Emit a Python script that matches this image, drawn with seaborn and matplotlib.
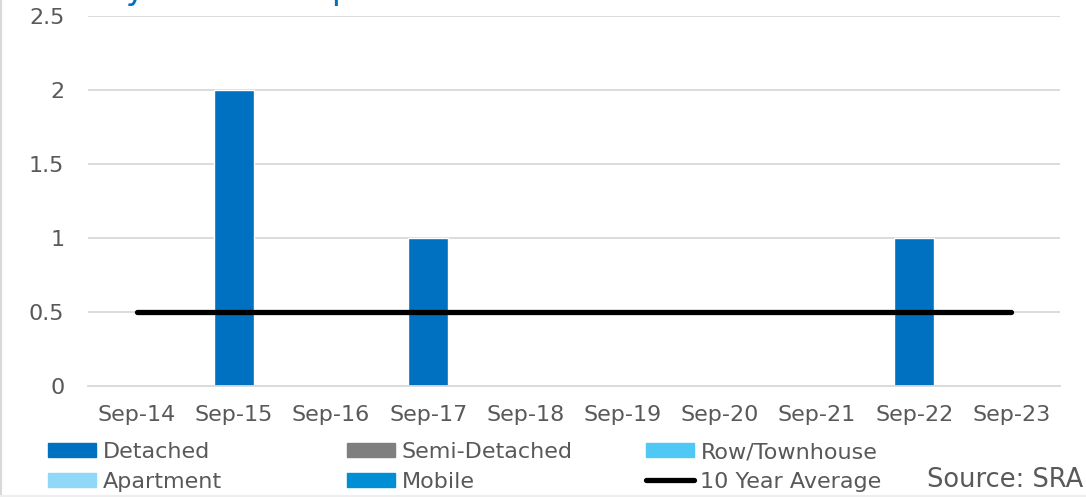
import numpy as np
import pandas as pd
import seaborn as sns
import matplotlib.pyplot as plt
from matplotlib.patches import Patch
from matplotlib.lines import Line2D

# Data
months = ["Sep-14", "Sep-15", "Sep-16", "Sep-17", "Sep-18",
          "Sep-19", "Sep-20", "Sep-21", "Sep-22", "Sep-23"]
detached = [0, 2, 0, 1, 0, 0, 0, 0, 1, 0]
semi_detached = [0, 0, 0, 0, 0, 0, 0, 0, 0, 0]
row_townhouse = [0, 0, 0, 0, 0, 0, 0, 0, 0, 0]
apartment = [0, 0, 0, 0, 0, 0, 0, 0, 0, 0]
mobile = [0, 0, 0, 0, 0, 0, 0, 0, 0, 0]
ten_year_avg = [0.5] * 10

colors = {"Detached": "#0070c0", "Semi-Detached": "#7f7f7f",
          "Row/Townhouse": "#4fc8f5", "Apartment": "#8fd8f8",
          "Mobile": "#008fd5"}

sns.set_style("white")
plt.rcParams["font.family"] = ["DejaVu Sans"]

df = pd.DataFrame({"month": months, "Detached": detached,
                   "avg": ten_year_avg})

fig, ax = plt.subplots(figsize=(10.86, 4.97), dpi=100)
fig.subplots_adjust(left=0.081, right=0.976, top=0.968, bottom=0.223)

sns.barplot(data=df, x="month", y="Detached", color=colors["Detached"],
            width=0.41, saturation=1, ax=ax, zorder=2)
ax.plot(range(len(months)), df["avg"], color="black", lw=3.8, zorder=3,
        solid_capstyle="round")

ax.set_xlim(-0.5, 9.5)
ax.set_ylim(0, 2.5)
ax.set_yticks([0, 0.5, 1, 1.5, 2, 2.5])
ax.set_yticklabels(["0", "0.5", "1", "1.5", "2", "2.5"])
ax.yaxis.grid(True, color="#d9d9d9", lw=1.3, zorder=0)
ax.set_axisbelow(True)
ax.set_xlabel("")
ax.set_ylabel("")
for s in ["top", "right", "left"]:
    ax.spines[s].set_visible(False)
ax.spines["bottom"].set_color("#d9d9d9")
ax.spines["bottom"].set_linewidth(1.3)
ax.tick_params(axis="both", length=0, labelsize=16, colors="#595959")
ax.tick_params(axis="x", pad=13.5)
ax.tick_params(axis="y", pad=17)

# title, cut off at the top edge of the picture as in the original
fig.text(12 / 1086, 1 + 1 / 497, "Monthly Sales Comparison", color="#0070c0",
         fontsize=24, va="baseline", ha="left")

# legend laid out in three fixed-width columns
leg_kw = dict(loc="upper left", frameon=False, fontsize=16,
              labelcolor="#595959", handlelength=2.15, handleheight=0.6,
              handletextpad=0.3, labelspacing=0.44, borderpad=0,
              borderaxespad=0)
legend_cols = [
    (["Detached", "Apartment"], 48),
    (["Semi-Detached", "Mobile"], 347),
]
for names, x0 in legend_cols:
    fig.legend([Patch(color=colors[n]) for n in names], names,
               bbox_to_anchor=(x0 / 1086, 1 - 442 / 497), **leg_kw)
fig.legend([Patch(color=colors["Row/Townhouse"]),
            Line2D([0], [0], color="black", lw=3.8)],
           ["Row/Townhouse", "10 Year Average"],
           bbox_to_anchor=(646 / 1086, 1 - 442 / 497), **leg_kw)

fig.text(1 - 3 / 1086, 1 - 480 / 497, "Source: SRA", ha="right",
         va="center", fontsize=18.5, color="#595959")

# thin frame edges seen on the left and bottom of the original
fig.add_artist(Line2D([0.5 / 1086, 0.5 / 1086], [0, 1], color="#d9d9d9",
                      lw=1.5, transform=fig.transFigure))
fig.add_artist(Line2D([0, 1], [1.5 / 497, 1.5 / 497], color="#eeeeee",
                      lw=1.5, transform=fig.transFigure))

fig.savefig("out.png", dpi=100)
